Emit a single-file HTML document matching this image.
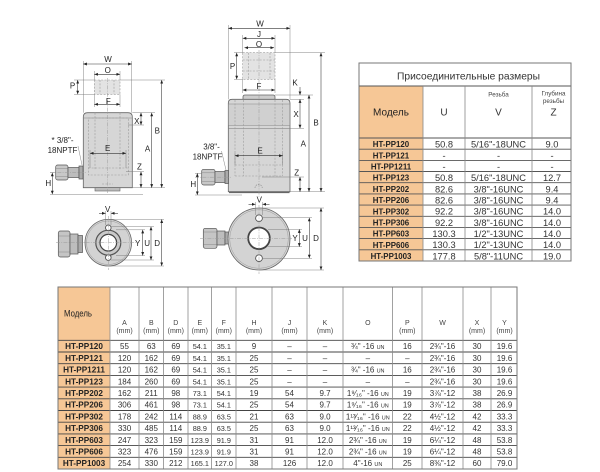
<!DOCTYPE html>
<html><head><meta charset="utf-8"><style>
html,body{margin:0;padding:0;background:#fff;}
svg{display:block;font-family:"Liberation Sans","DejaVu Sans",sans-serif;}
.ol{stroke:#666;stroke-width:.8;}
.ds{fill:none;stroke:#9a9a9a;stroke-width:.6;stroke-dasharray:2 1.4;}
.cl{fill:none;stroke:#9a9a9a;stroke-width:.5;stroke-dasharray:4 1.2 1 1.2;}
.ex{fill:none;stroke:#777;stroke-width:.45;}
.dm{fill:none;stroke:#333;stroke-width:.55;marker-start:url(#ar);marker-end:url(#ar);}
.dh{fill:none;stroke:#333;stroke-width:.55;marker-end:url(#ar);}
.lb{font-size:8px;fill:#222;text-anchor:middle;}
.t{text-anchor:middle;fill:#333;}
.rt{font-size:9.3px;}
.rm{font-size:7.9px;font-weight:bold;fill:#222;}
.bt{font-size:8px;}
.bm{font-size:8.2px;font-weight:bold;fill:#222;}
.hs{font-size:7px;fill:#444;}
</style></head><body>
<svg width="600" height="472" viewBox="0 0 600 472" xmlns="http://www.w3.org/2000/svg">
<defs>
<marker id="ar" viewBox="0 0 6 6" refX="6" refY="3" markerWidth="3.6" markerHeight="3.6" markerUnits="userSpaceOnUse" orient="auto-start-reverse"><path d="M0,0.6 L6,3 L0,5.4z" fill="#222"/></marker>
</defs>
<rect width="600" height="472" fill="#fff"/>

<!-- ===== LEFT CYLINDER ===== -->
<g>
<rect x="94.3" y="80" width="25.7" height="14.3" fill="#e3e3e3" stroke="#999" stroke-width=".6" stroke-dasharray="2 1.4"/>
<path class="ds" d="M100,80V94.3M114,80V94.3"/>
<path d="M83.3,187.7V117Q83.3,112.7 87.6,112.7H128Q132.3,112.7 132.3,117V187.7Z" fill="#d6d6d6" class="ol"/>
<path d="M83.3,118H132.3" stroke="#888" stroke-width=".6"/>
<rect x="95" y="187.7" width="25" height="3.3" fill="#bcbcbc" stroke="#666" stroke-width=".6"/>
<rect class="ds" x="88.3" y="118" width="40" height="57"/>
<path class="ds" d="M95,112.7V170M120,112.7V170M88.3,168H128.3"/>
<path class="cl" d="M107.7,78V193"/>
<path class="ds" d="M102,184H113"/>
<rect x="55.7" y="165" width="12.3" height="15" rx="2" fill="#c8c8c8" stroke="#555" stroke-width=".7"/>
<path d="M56,168.5H68M56,176.5H68" stroke="#888" stroke-width=".5"/>
<rect x="68" y="167.5" width="11" height="10" fill="#bdbdbd" stroke="#555" stroke-width=".7"/>
<rect x="79" y="166" width="4" height="13" fill="#aaa" stroke="#555" stroke-width=".7"/>
<path class="cl" d="M50,172.7H86"/>
<!-- extension lines -->
<path class="ex" d="M83.3,61V112.7M131.7,61V112.7M94.3,71V80M120,71V80M94.3,94.3V107M120,94.3V107M74,80H94.3M74,94.3H94.3M120,80H165M132.3,112.7H155M128,125H144M126,171.7H144M132.3,187.7H165M50,172.7H56M50,194.3H143M90,150V168M126,150V168"/>
<!-- dims -->
<path class="dm" d="M83.3,64H131.7"/>
<path class="dm" d="M94.3,74.3H120"/>
<path class="dm" d="M94.3,104.3H120"/>
<path class="dm" d="M77.7,80V94.3"/>
<path class="dm" d="M141,112.7V125"/>
<path class="dm" d="M151.7,112.7V187.7"/>
<path class="dm" d="M161.7,80V187.7"/>
<path class="dm" d="M141,171.7V187.7"/>
<path class="dm" d="M90,153.3H126"/>
<path class="dm" d="M52.3,172.7V194.3"/>
<text class="lb" x="108" y="62">W</text>
<text class="lb" x="107.7" y="73">O</text>
<text class="lb" x="72.5" y="88.5">P</text>
<text class="lb" x="108.3" y="104">F</text>
<text class="lb" x="136.8" y="124">X</text>
<text class="lb" x="147.5" y="151.5">A</text>
<text class="lb" x="157.3" y="133.5">B</text>
<text class="lb" x="139.5" y="169.5">Z</text>
<text class="lb" x="107.7" y="151">E</text>
<text class="lb" x="48.3" y="186">H</text>
<text class="lb" x="62.5" y="143" font-size="7.8">* 3/8"-</text>
<text class="lb" x="62.5" y="153" font-size="7.8">18NPTF</text>
<path class="ex" d="M78,146L82,165" stroke="#555"/>
</g>

<!-- ===== MIDDLE CYLINDER ===== -->
<g>
<rect x="242.7" y="52.7" width="32.3" height="26.6" fill="#e3e3e3" stroke="#999" stroke-width=".6" stroke-dasharray="2 1.4"/>
<path class="ds" d="M242.7,60H275M242.7,71H275M248.3,52.7V79.3M270,52.7V79.3"/>
<path d="M243,100V97Q243,95 245,95H273Q275,95 275,97V100Z" fill="#cdcdcd" class="ol"/>
<path d="M228.3,191.7V103Q228.3,99.3 232,99.3H286.3Q290,99.3 290,103V191.7Z" fill="#d6d6d6" class="ol"/>
<rect x="228.7" y="104" width="60.9" height="21.5" fill="#d0d0d0"/>
<path d="M228.3,104H290M228.3,125.5H290M228.3,128.3H290" stroke="#888" stroke-width=".6"/>
<path d="M229,192.5H289.5" stroke="#666" stroke-width="1.2"/>
<path class="ds" d="M235,100V176M243.3,100V176M275,100V176M282.7,100V176M235,176H282.7M235,165H282.7"/>
<path class="cl" d="M259,50V197"/>
<path d="M255,188A3.6,3.6 0 0 1 262.2,188" fill="none" stroke="#888" stroke-width=".6" stroke-dasharray="1.5 1"/>
<rect x="201.7" y="169.3" width="13.3" height="15.7" rx="2" fill="#c8c8c8" stroke="#555" stroke-width=".7"/>
<path d="M202,172.8H215M202,181.5H215" stroke="#888" stroke-width=".5"/>
<rect x="215" y="171.5" width="10" height="11" fill="#bdbdbd" stroke="#555" stroke-width=".7"/>
<rect x="225" y="170.5" width="3.5" height="13" fill="#aaa" stroke="#555" stroke-width=".7"/>
<path class="cl" d="M195,177.2H231"/>
<path class="ex" d="M228.3,25V99.3M290,25V99.3M242.7,35V52.7M275,35V52.7M234,52.7H242.7M234,79.3H242.7M242.7,79.3V93M275,79.3V93M275,52.7H325M275,95H313M290,99.3H304M290,128.3H304M262,177H304M290,191.7H325M195,173.3H202M195,195H242M235,153V165M282.7,153V165"/>
<path class="dm" d="M228.3,28.3H290"/>
<path class="dm" d="M242.7,38.3H275"/>
<path class="dm" d="M244.5,47.7H274"/>
<path class="dm" d="M236.7,52.7V79.3"/>
<path class="dm" d="M242.7,90H275"/>
<path class="dh" d="M300,87V95"/>
<path class="dm" d="M300,99.3V128.3"/>
<path class="dm" d="M309,95V191.7"/>
<path class="dm" d="M321,52.7V191.7"/>
<path class="dm" d="M300,177V191.7"/>
<path class="dm" d="M235,155.7H282.7"/>
<path class="dm" d="M197.3,173.3V195"/>
<text class="lb" x="260" y="26.3">W</text>
<text class="lb" x="259" y="37">J</text>
<text class="lb" x="259" y="47">O</text>
<text class="lb" x="232.5" y="69">P</text>
<text class="lb" x="259" y="89">F</text>
<text class="lb" x="295" y="85.7">K</text>
<text class="lb" x="296" y="117">X</text>
<text class="lb" x="303.3" y="146.3">A</text>
<text class="lb" x="316" y="125.7">B</text>
<text class="lb" x="260" y="153.7">E</text>
<text class="lb" x="296.7" y="175.3">Z</text>
<text class="lb" x="193.3" y="187">H</text>
<text class="lb" x="211.5" y="149.7" font-size="7.8">3/8"-</text>
<text class="lb" x="207.5" y="159.7" font-size="7.8">18NPTF</text>
<path class="ex" d="M221.5,151L226,170" stroke="#555"/>
</g>

<!-- ===== BOTTOM VIEW LEFT ===== -->
<g>
<rect x="58.3" y="231" width="11.7" height="26" rx="2" fill="#c5c5c5" stroke="#555" stroke-width=".7"/>
<path d="M58.6,236H70M58.6,252H70" stroke="#888" stroke-width=".5"/>
<rect x="70" y="234" width="8" height="20" fill="#bdbdbd" stroke="#555" stroke-width=".7"/>
<rect x="78" y="235.5" width="4.5" height="17" fill="#aaa" stroke="#555" stroke-width=".7"/>
<circle cx="108.3" cy="242.7" r="23.3" fill="#d3d3d3" class="ol"/>
<circle cx="108.3" cy="242.7" r="21.8" fill="none" stroke="#9a9a9a" stroke-width=".5"/>
<circle cx="108.3" cy="242.7" r="12.5" fill="#c9c9c9" stroke="#555" stroke-width="1.2"/>
<circle cx="108.3" cy="242.7" r="8.3" fill="#fff" stroke="#444" stroke-width="1.2"/>
<circle cx="108.3" cy="227.8" r="2.8" fill="#fff" stroke="#555" stroke-width=".9"/>
<circle cx="108.3" cy="257.6" r="2.8" fill="#fff" stroke="#555" stroke-width=".9"/>
<path class="cl" d="M56,242.7H136M108.3,216V270"/>
<path class="ex" d="M108.3,219.4H164M108.3,266H164M111,226.7H154M111,260H154M116,229.8H145M116,255.6H145M105.6,211V225M111,211V225"/>
<path class="dh" d="M99,213.3H105.6"/>
<path class="dh" d="M118,213.3H111"/>
<path class="dm" d="M142.7,229.8V255.6"/>
<path class="dm" d="M151,226.7V260"/>
<path class="dm" d="M161.7,219.4V266"/>
<text class="lb" x="107.7" y="212">V</text>
<text class="lb" x="137.7" y="246">Y</text>
<text class="lb" x="147.2" y="246">U</text>
<text class="lb" x="157.2" y="246">D</text>
</g>

<!-- ===== BOTTOM VIEW RIGHT ===== -->
<g>
<rect x="203.3" y="228.3" width="13.7" height="20" rx="2" fill="#c5c5c5" stroke="#555" stroke-width=".7"/>
<path d="M203.6,232H217M203.6,244.5H217" stroke="#888" stroke-width=".5"/>
<rect x="217" y="231" width="8" height="14" fill="#bdbdbd" stroke="#555" stroke-width=".7"/>
<rect x="225" y="232" width="4" height="12" fill="#aaa" stroke="#555" stroke-width=".7"/>
<circle cx="259" cy="239" r="31" fill="#d3d3d3" class="ol"/>
<circle cx="259" cy="239" r="29.3" fill="none" stroke="#9a9a9a" stroke-width=".5"/>
<circle cx="259" cy="238.3" r="10.8" fill="#fff" stroke="#444" stroke-width="1.8"/>
<circle cx="259" cy="218.2" r="3.4" fill="#fff" stroke="#555" stroke-width=".9"/>
<circle cx="259" cy="258.2" r="3.4" fill="#fff" stroke="#555" stroke-width=".9"/>
<path class="cl" d="M200,238.3H292M259,205V274"/>
<path class="ex" d="M259,208H324M259,270H324M262,217.7H312M262,258.3H312M268,229.3H302M268,246.7H302M255.5,202V215M262.5,202V215"/>
<path class="dh" d="M248.5,204.3H255.5"/>
<path class="dh" d="M269.5,204.3H262.5"/>
<path class="dm" d="M299.3,229.3V246.7"/>
<path class="dm" d="M309.3,217.7V258.3"/>
<path class="dm" d="M321,208V270"/>
<text class="lb" x="259.3" y="202.5">V</text>
<text class="lb" x="295" y="241">Y</text>
<text class="lb" x="305" y="241">U</text>
<text class="lb" x="316" y="241">D</text>
</g>

<!-- ===== RIGHT TABLE ===== -->
<g>
<rect x="359" y="63" width="212" height="198" fill="#fff"/>
<rect x="359" y="86" width="64" height="175" fill="#f6c796"/>
<text x="468.5" y="79.5" font-size="10.5" fill="#333" text-anchor="middle" textLength="143" lengthAdjust="spacingAndGlyphs">Присоединительные размеры</text>
<text x="391" y="115.5" font-size="10" fill="#222" text-anchor="middle">Модель</text>
<text x="444" y="115.5" font-size="10" fill="#333" text-anchor="middle">U</text>
<text x="498.5" y="96.5" font-size="6.3" fill="#444" text-anchor="middle">Резьба</text>
<text x="498.5" y="115.5" font-size="10" fill="#333" text-anchor="middle">V</text>
<text x="553.5" y="95.5" font-size="6.3" fill="#444" text-anchor="middle">Глубина</text>
<text x="553.5" y="103.2" font-size="6.3" fill="#444" text-anchor="middle">резьбы</text>
<text x="553.5" y="115.5" font-size="10" fill="#333" text-anchor="middle">Z</text>
<g stroke="#555" stroke-width=".9">
<path d="M359,86H571M359,138H571M359,149.2H571M359,160.4H571M359,171.5H571M359,182.7H571M359,193.9H571M359,205.1H571M359,216.3H571M359,227.4H571M359,238.6H571M359,249.8H571"/>
</g>
<path d="M423,86V261M465,86V261M532,86V261" stroke="#888" stroke-width=".8"/>
<rect x="359" y="63" width="212" height="198" fill="none" stroke="#777" stroke-width="1"/>
<g class="rm" text-anchor="middle">
<text x="391" y="147.2" text-anchor="middle">HT-PP120</text>
<text x="391" y="158.4" text-anchor="middle">HT-PP121</text>
<text x="391" y="169.5" text-anchor="middle">HT-PP1211</text>
<text x="391" y="180.7" text-anchor="middle">HT-PP123</text>
<text x="391" y="191.9" text-anchor="middle">HT-PP202</text>
<text x="391" y="203.1" text-anchor="middle">HT-PP206</text>
<text x="391" y="214.3" text-anchor="middle">HT-PP302</text>
<text x="391" y="225.5" text-anchor="middle">HT-PP306</text>
<text x="391" y="236.6" text-anchor="middle">HT-PP603</text>
<text x="391" y="247.8" text-anchor="middle">HT-PP606</text>
<text x="391" y="259" text-anchor="middle">HT-PP1003</text>
</g>
<g class="rt">
<text class="t" x="444" y="147.6">50.8</text><text class="t" x="498.5" y="147.6">5/16"-18UNC</text><text class="t" x="552" y="147.6">9.0</text>
<text class="t" x="444" y="158.8">-</text><text class="t" x="498.5" y="158.8">-</text><text class="t" x="552" y="158.8">-</text>
<text class="t" x="444" y="169.9">-</text><text class="t" x="498.5" y="169.9">-</text><text class="t" x="552" y="169.9">-</text>
<text class="t" x="444" y="181.1">50.8</text><text class="t" x="498.5" y="181.1">5/16"-18UNC</text><text class="t" x="552" y="181.1">12.7</text>
<text class="t" x="444" y="192.3">82.6</text><text class="t" x="498.5" y="192.3">3/8"-16UNC</text><text class="t" x="552" y="192.3">9.4</text>
<text class="t" x="444" y="203.5">82.6</text><text class="t" x="498.5" y="203.5">3/8"-16UNC</text><text class="t" x="552" y="203.5">9.4</text>
<text class="t" x="444" y="214.7">92.2</text><text class="t" x="498.5" y="214.7">3/8"-16UNC</text><text class="t" x="552" y="214.7">14.0</text>
<text class="t" x="444" y="225.9">92.2</text><text class="t" x="498.5" y="225.9">3/8"-16UNC</text><text class="t" x="552" y="225.9">14.0</text>
<text class="t" x="444" y="237">130.3</text><text class="t" x="498.5" y="237">1/2"-13UNC</text><text class="t" x="552" y="237">14.0</text>
<text class="t" x="444" y="248.2">130.3</text><text class="t" x="498.5" y="248.2">1/2"-13UNC</text><text class="t" x="552" y="248.2">14.0</text>
<text class="t" x="444" y="259.4">177.8</text><text class="t" x="498.5" y="259.4">5/8"-11UNC</text><text class="t" x="552" y="259.4">19.0</text>
</g>
</g>

<!-- ===== BOTTOM TABLE ===== -->
<g>
<rect x="58" y="287" width="459" height="182" fill="#fff"/>
<rect x="58" y="287" width="52" height="182" fill="#f6c796"/>
<text x="64" y="316.5" font-size="9.5" fill="#222" textLength="28" lengthAdjust="spacingAndGlyphs">Модель</text>
<g class="hs" text-anchor="middle">
<text x="124.5" y="324.8">A</text><text x="124.5" y="333">(mm)</text>
<text x="151.3" y="324.8">B</text><text x="151.3" y="333">(mm)</text>
<text x="175.8" y="324.8">D</text><text x="175.8" y="333">(mm)</text>
<text x="199.8" y="324.8">E</text><text x="199.8" y="333">(mm)</text>
<text x="223.8" y="324.8">F</text><text x="223.8" y="333">(mm)</text>
<text x="254" y="324.8">H</text><text x="254" y="333">(mm)</text>
<text x="289.5" y="324.8">J</text><text x="289.5" y="333">(mm)</text>
<text x="325" y="324.8">K</text><text x="325" y="333">(mm)</text>
<text x="367.8" y="324.8">O</text>
<text x="407.3" y="324.8">P</text><text x="407.3" y="333">(mm)</text>
<text x="442.5" y="324.8">W</text>
<text x="477" y="324.8">X</text><text x="477" y="333">(mm)</text>
<text x="504.5" y="324.8">Y</text><text x="504.5" y="333">(mm)</text>
</g>
<path d="M58,340.3H517M58,352H517M58,363.7H517M58,375.4H517M58,387.1H517M58,398.8H517M58,410.5H517M58,422.2H517M58,433.9H517M58,445.6H517M58,457.3H517M58,469H517" stroke="#444" stroke-width=".9"/>
<path d="M110,287V469M139,287V469M163.5,287V469M188,287V469M211.5,287V469M236,287V469M272,287V469M307,287V469M343,287V469M392.5,287V469M422,287V469M463,287V469M491,287V469" stroke="#8a8a8a" stroke-width=".8"/>
<rect x="58" y="287" width="459" height="182" fill="none" stroke="#777" stroke-width="1"/>
<g class="bm" text-anchor="middle">
<text x="84" y="349.2" text-anchor="middle">HT-PP120</text>
<text x="84" y="360.9" text-anchor="middle">HT-PP121</text>
<text x="84" y="372.6" text-anchor="middle">HT-PP1211</text>
<text x="84" y="384.3" text-anchor="middle">HT-PP123</text>
<text x="84" y="396" text-anchor="middle">HT-PP202</text>
<text x="84" y="407.7" text-anchor="middle">HT-PP206</text>
<text x="84" y="419.4" text-anchor="middle">HT-PP302</text>
<text x="84" y="431.1" text-anchor="middle">HT-PP306</text>
<text x="84" y="442.8" text-anchor="middle">HT-PP603</text>
<text x="84" y="454.5" text-anchor="middle">HT-PP606</text>
<text x="84" y="466.2" text-anchor="middle">HT-PP1003</text>
</g>
<g class="bt">
<!-- row 1 -->
<text class="t" x="124.5" y="349.2">55</text><text class="t" x="151.3" y="349.2">63</text><text class="t" x="175.8" y="349.2">69</text><text class="t" x="199.8" y="349.2" font-size="7.3">54.1</text><text class="t" x="223.8" y="349.2" font-size="7.3">35.1</text><text class="t" x="254" y="349.2">9</text><text class="t" x="289.5" y="349.2">–</text><text class="t" x="325" y="349.2">–</text><text class="t" x="367.8" y="349.2">¾" -16 <tspan font-size="5.5">UN</tspan></text><text class="t" x="407.3" y="349.2">16</text><text class="t" x="442.5" y="349.2">2¾"-16</text><text class="t" x="477" y="349.2">30</text><text class="t" x="504.5" y="349.2">19.6</text>
<!-- row 2 -->
<text class="t" x="124.5" y="360.9">120</text><text class="t" x="151.3" y="360.9">162</text><text class="t" x="175.8" y="360.9">69</text><text class="t" x="199.8" y="360.9" font-size="7.3">54.1</text><text class="t" x="223.8" y="360.9" font-size="7.3">35.1</text><text class="t" x="254" y="360.9">25</text><text class="t" x="289.5" y="360.9">–</text><text class="t" x="325" y="360.9">–</text><text class="t" x="367.8" y="360.9">–</text><text class="t" x="407.3" y="360.9">–</text><text class="t" x="442.5" y="360.9">2¾"-16</text><text class="t" x="477" y="360.9">30</text><text class="t" x="504.5" y="360.9">19.6</text>
<!-- row 3 -->
<text class="t" x="124.5" y="372.6">120</text><text class="t" x="151.3" y="372.6">162</text><text class="t" x="175.8" y="372.6">69</text><text class="t" x="199.8" y="372.6" font-size="7.3">54.1</text><text class="t" x="223.8" y="372.6" font-size="7.3">35.1</text><text class="t" x="254" y="372.6">25</text><text class="t" x="289.5" y="372.6">–</text><text class="t" x="325" y="372.6">–</text><text class="t" x="367.8" y="372.6">¾" -16 <tspan font-size="5.5">UN</tspan></text><text class="t" x="407.3" y="372.6">16</text><text class="t" x="442.5" y="372.6">2¾"-16</text><text class="t" x="477" y="372.6">30</text><text class="t" x="504.5" y="372.6">19.6</text>
<!-- row 4 -->
<text class="t" x="124.5" y="384.3">184</text><text class="t" x="151.3" y="384.3">260</text><text class="t" x="175.8" y="384.3">69</text><text class="t" x="199.8" y="384.3" font-size="7.3">54.1</text><text class="t" x="223.8" y="384.3" font-size="7.3">35.1</text><text class="t" x="254" y="384.3">25</text><text class="t" x="289.5" y="384.3">–</text><text class="t" x="325" y="384.3">–</text><text class="t" x="367.8" y="384.3">–</text><text class="t" x="407.3" y="384.3">–</text><text class="t" x="442.5" y="384.3">2¾"-16</text><text class="t" x="477" y="384.3">30</text><text class="t" x="504.5" y="384.3">19.6</text>
<!-- row 5 -->
<text class="t" x="124.5" y="396">162</text><text class="t" x="151.3" y="396">211</text><text class="t" x="175.8" y="396">98</text><text class="t" x="199.8" y="396" font-size="7.3">73.1</text><text class="t" x="223.8" y="396" font-size="7.3">54.1</text><text class="t" x="254" y="396">19</text><text class="t" x="289.5" y="396">54</text><text class="t" x="325" y="396">9.7</text><text class="t" x="367.8" y="396">1⁹⁄₁₆" -16 <tspan font-size="5.5">UN</tspan></text><text class="t" x="407.3" y="396">19</text><text class="t" x="442.5" y="396">3⅞"-12</text><text class="t" x="477" y="396">38</text><text class="t" x="504.5" y="396">26.9</text>
<!-- row 6 -->
<text class="t" x="124.5" y="407.7">306</text><text class="t" x="151.3" y="407.7">461</text><text class="t" x="175.8" y="407.7">98</text><text class="t" x="199.8" y="407.7" font-size="7.3">73.1</text><text class="t" x="223.8" y="407.7" font-size="7.3">54.1</text><text class="t" x="254" y="407.7">25</text><text class="t" x="289.5" y="407.7">54</text><text class="t" x="325" y="407.7">9.7</text><text class="t" x="367.8" y="407.7">1⁹⁄₁₆" -16 <tspan font-size="5.5">UN</tspan></text><text class="t" x="407.3" y="407.7">19</text><text class="t" x="442.5" y="407.7">3⅞"-12</text><text class="t" x="477" y="407.7">38</text><text class="t" x="504.5" y="407.7">26.9</text>
<!-- row 7 -->
<text class="t" x="124.5" y="419.4">178</text><text class="t" x="151.3" y="419.4">242</text><text class="t" x="175.8" y="419.4">114</text><text class="t" x="199.8" y="419.4" font-size="7.3">88.9</text><text class="t" x="223.8" y="419.4" font-size="7.3">63.5</text><text class="t" x="254" y="419.4">21</text><text class="t" x="289.5" y="419.4">63</text><text class="t" x="325" y="419.4">9.0</text><text class="t" x="367.8" y="419.4">1¹³⁄₁₆" -16 <tspan font-size="5.5">UN</tspan></text><text class="t" x="407.3" y="419.4">22</text><text class="t" x="442.5" y="419.4">4½"-12</text><text class="t" x="477" y="419.4">42</text><text class="t" x="504.5" y="419.4">33.3</text>
<!-- row 8 -->
<text class="t" x="124.5" y="431.1">330</text><text class="t" x="151.3" y="431.1">485</text><text class="t" x="175.8" y="431.1">114</text><text class="t" x="199.8" y="431.1" font-size="7.3">88.9</text><text class="t" x="223.8" y="431.1" font-size="7.3">63.5</text><text class="t" x="254" y="431.1">25</text><text class="t" x="289.5" y="431.1">63</text><text class="t" x="325" y="431.1">9.0</text><text class="t" x="367.8" y="431.1">1¹³⁄₁₆" -16 <tspan font-size="5.5">UN</tspan></text><text class="t" x="407.3" y="431.1">22</text><text class="t" x="442.5" y="431.1">4½"-12</text><text class="t" x="477" y="431.1">42</text><text class="t" x="504.5" y="431.1">33.3</text>
<!-- row 9 -->
<text class="t" x="124.5" y="442.8">247</text><text class="t" x="151.3" y="442.8">323</text><text class="t" x="175.8" y="442.8">159</text><text class="t" x="199.8" y="442.8" font-size="7.3">123.9</text><text class="t" x="223.8" y="442.8" font-size="7.3">91.9</text><text class="t" x="254" y="442.8">31</text><text class="t" x="289.5" y="442.8">91</text><text class="t" x="325" y="442.8">12.0</text><text class="t" x="367.8" y="442.8">2¾" -16 <tspan font-size="5.5">UN</tspan></text><text class="t" x="407.3" y="442.8">19</text><text class="t" x="442.5" y="442.8">6¼"-12</text><text class="t" x="477" y="442.8">48</text><text class="t" x="504.5" y="442.8">53.8</text>
<!-- row 10 -->
<text class="t" x="124.5" y="454.5">323</text><text class="t" x="151.3" y="454.5">476</text><text class="t" x="175.8" y="454.5">159</text><text class="t" x="199.8" y="454.5" font-size="7.3">123.9</text><text class="t" x="223.8" y="454.5" font-size="7.3">91.9</text><text class="t" x="254" y="454.5">31</text><text class="t" x="289.5" y="454.5">91</text><text class="t" x="325" y="454.5">12.0</text><text class="t" x="367.8" y="454.5">2¾" -16 <tspan font-size="5.5">UN</tspan></text><text class="t" x="407.3" y="454.5">19</text><text class="t" x="442.5" y="454.5">6¼"-12</text><text class="t" x="477" y="454.5">48</text><text class="t" x="504.5" y="454.5">53.8</text>
<!-- row 11 -->
<text class="t" x="124.5" y="466.2">254</text><text class="t" x="151.3" y="466.2">330</text><text class="t" x="175.8" y="466.2">212</text><text class="t" x="199.8" y="466.2" font-size="7.3">165.1</text><text class="t" x="223.8" y="466.2" font-size="7.3">127.0</text><text class="t" x="254" y="466.2">38</text><text class="t" x="289.5" y="466.2">126</text><text class="t" x="325" y="466.2">12.0</text><text class="t" x="367.8" y="466.2">4"-16 <tspan font-size="5.5">UN</tspan></text><text class="t" x="407.3" y="466.2">25</text><text class="t" x="442.5" y="466.2">8⅜"-12</text><text class="t" x="477" y="466.2">60</text><text class="t" x="504.5" y="466.2">79.0</text>
</g>
</g>
</svg>
</body></html>
